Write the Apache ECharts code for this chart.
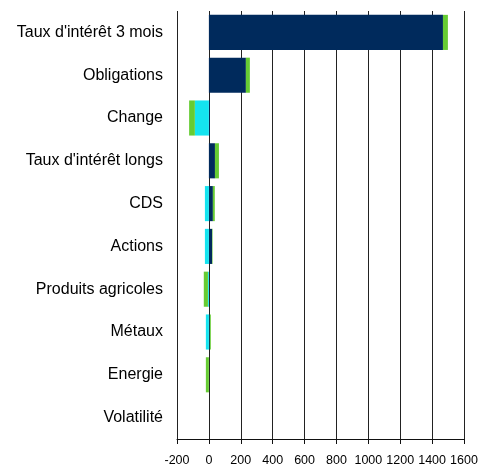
<!DOCTYPE html>
<html>
<head>
<meta charset="utf-8">
<script src="https://cdn.jsdelivr.net/npm/echarts@6/dist/echarts.min.js"></script>
<style>
html,body{margin:0;padding:0;background:#fff;}
#c{width:498px;height:469px;}
</style>
</head>
<body>
<div id="c"></div>
<script>
const categories = ["Taux d'intérêt 3 mois","Obligations","Change","Taux d'intérêt longs","CDS","Actions","Produits agricoles","Métaux","Energie","Volatilité"];
const navyValues  = [1468, 232, 6, 38, 25, 20, 0, 6, 0, 0];
const cyanValues  = [0, 0, -88, 0, -25, -25, -6, -19, 0, 0];
const greenValues = [31, 25, -36, 25, 12, 3, -26, 6, -19, 0];
const xTicks = {min: -200, max: 1600, interval: 200};

const chart = echarts.init(document.getElementById('c'));
const font = 'Liberation Sans, Arial, sans-serif';
chart.setOption({
  animation: false,
  backgroundColor: '#fff',
  grid: {left: 177, right: 34, top: 11, bottom: 30, containLabel: false},
  xAxis: {
    type: 'value', min: xTicks.min, max: xTicks.max, interval: xTicks.interval,
    axisLine: {show: true, onZero: false, lineStyle: {color: '#111', width: 1}},
    axisTick: {show: true, length: 5, lineStyle: {color: '#111'}},
    splitLine: {show: true, lineStyle: {color: '#222', width: 1}},
    axisLabel: {color: '#000', fontSize: 12.5, fontFamily: font, margin: 15,
      formatter: function (v) { return String(v); }}
  },
  yAxis: {
    type: 'category', data: categories, inverse: true,
    axisLine: {show: false}, axisTick: {show: false},
    axisLabel: {color: '#000', fontSize: 16, fontFamily: font, margin: 14}
  },
  series: [
    {name: 'navy', type: 'bar', stack: 's', data: navyValues, itemStyle: {color: '#002A5C'}, barCategoryGap: '18%'},
    {name: 'cyan', type: 'bar', stack: 's', data: cyanValues, itemStyle: {color: '#14E4F0'}},
    {name: 'green', type: 'bar', stack: 's', data: greenValues, itemStyle: {color: '#66CC33'}}
  ]
});
</script>
</body>
</html>
